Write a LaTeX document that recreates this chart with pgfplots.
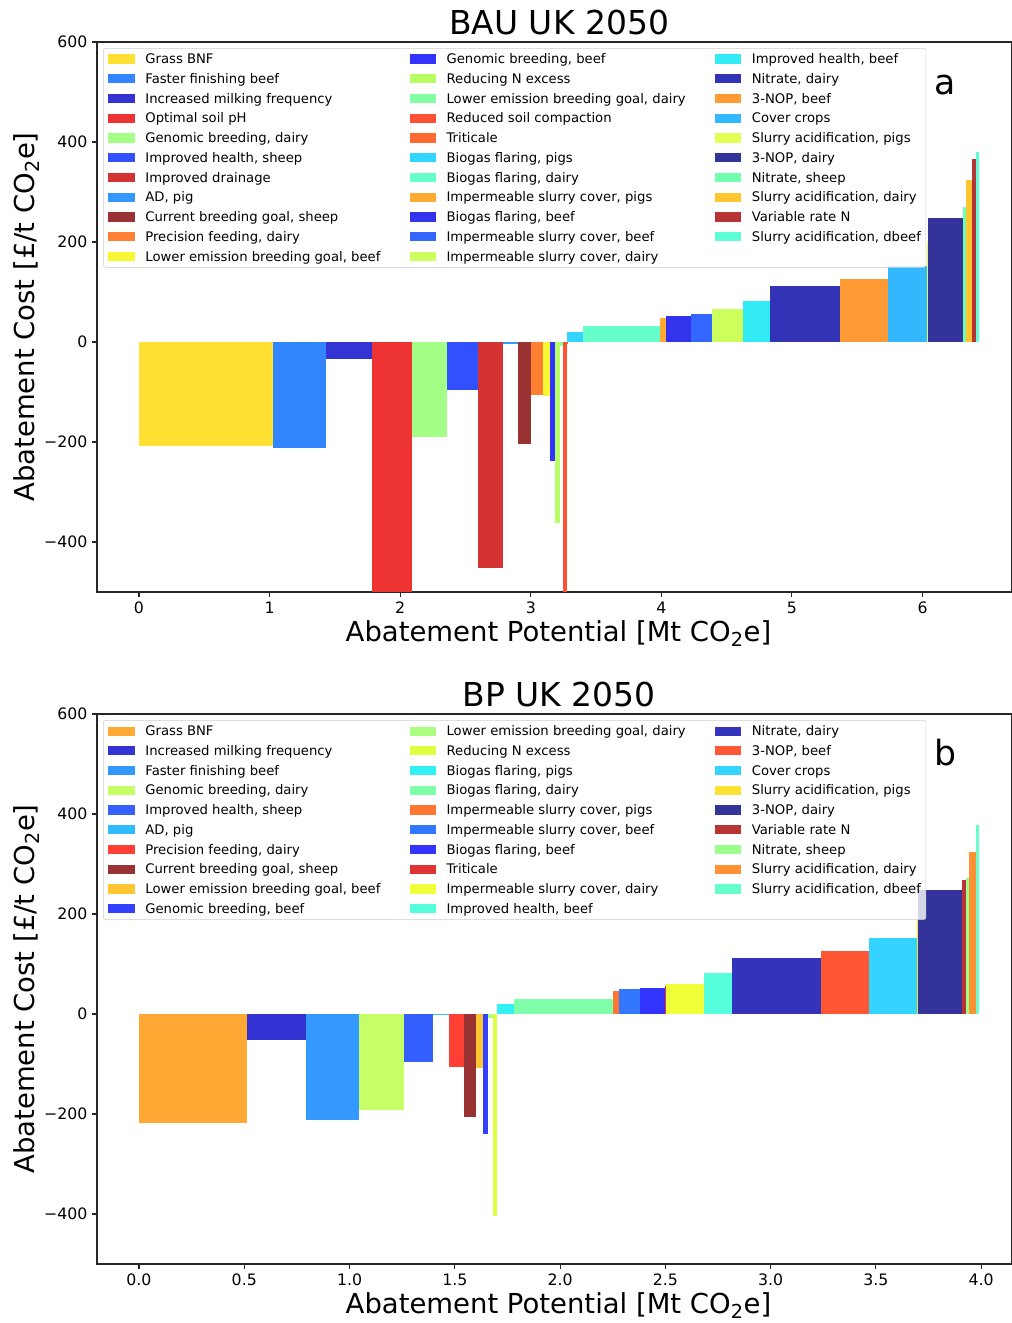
\documentclass[border=0pt]{standalone}
\usepackage{fontspec}
\setmainfont{DejaVu Sans}
\usepackage{pgfplots}
\pgfplotsset{compat=1.18}

% id, hex colour, x start, x end, cost, label
\newcommand{\mb}[6]{%
  \xglobal\definecolor{#1}{HTML}{#2}%
  \addplot[fill=#1, draw=none] coordinates {(#3,0) (#3,#5) (#4,#5) (#4,0)} --cycle;
  \addlegendentry{#6}}

\pgfplotsset{
  macc/.style={
    scale only axis, width=686.25pt, height=412.5pt,
    ymin=-500, ymax=600,
    ytick={-400,-200,0,200,400,600},
    yticklabels={−400,−200,0,200,400,600},
    tick align=outside, tick pos=left,
    major tick length=3.75pt,
    every tick/.style={black!85, line width=0.8pt},
    axis line style={black!85, line width=0.8pt},
    tick label style={font=\fontsize{11.8}{14}\selectfont},
    label style={font=\fontsize{20.6}{24}\selectfont},
    xlabel style={at={(axis description cs:0.5,-0.0909)}, anchor=base, xshift=3pt},
    ylabel style={at={(axis description cs:-0.0678,0.5)}, anchor=base},
    title style={font=\fontsize{24.7}{30}\selectfont, at={(axis description cs:0.5,1)}, anchor=base, yshift=-0.75pt, xshift=3.5pt},
    xlabel={Abatement Potential [Mt CO\textsubscript{2}e]},
    ylabel={Abatement Cost [£/t CO\textsubscript{2}e]},
    legend columns=3,
    legend cell align=left,
    legend style={at={(axis description cs:0.0066,0.989)}, anchor=north west,
      font=\fontsize{9.9}{11}\selectfont, draw=black!20, rounded corners=2pt,
      fill=white, fill opacity=0.8, text opacity=1, draw opacity=1,
      inner xsep=3.75pt, inner ysep=2.6pt,
      column sep=8pt, row sep=3.7pt,
      /tikz/every even column/.append style={column sep=21.8pt},
      nodes={inner sep=0pt, text height=9pt, text depth=2.1pt, anchor=base west}},
    legend image code/.code={\fill[##1, draw=none, sharp corners, fill opacity=1] (0pt,0.05pt) rectangle (19.8pt,6.95pt);},
  }
}

\begin{document}
\begin{tikzpicture}
\useasboundingbox (0,0) rectangle (759pt,992.25pt);

% ---------------- (a) BAU UK 2050 ----------------
\begin{axis}[macc, at={(72.75pt,960.75pt)}, anchor=north west,
  xmin=-0.3216, xmax=6.685,
  xtick={0,1,2,3,4,5,6},
  xticklabels={0,1,2,3,4,5,6},
  title={BAU UK 2050}]
\mb{ta1}{FFE033}{0}{1.024}{-209}{Grass BNF}
\mb{ta12}{3333FF}{3.148}{3.188}{-239}{Genomic breeding, beef}
\mb{ta23}{33EBF5}{4.624}{4.833}{82}{Improved health, beef}
\mb{ta2}{3385FF}{1.024}{1.432}{-212}{Faster finishing beef}
\mb{ta13}{B8FF66}{3.188}{3.224}{-363}{Reducing N excess}
\mb{ta24}{3333B8}{4.833}{5.369}{111}{Nitrate, dairy}
\mb{ta3}{3434D4}{1.432}{1.782}{-35}{Increased milking frequency}
\mb{ta14}{85FFA3}{3.224}{3.250}{-8}{Lower emission breeding goal, dairy}
\mb{ta25}{FF9933}{5.369}{5.734}{126}{3-NOP, beef}
\mb{ta4}{EE3333}{1.782}{2.091}{-700}{Optimal soil pH}
\mb{ta15}{FF5033}{3.250}{3.274}{-700}{Reduced soil compaction}
\mb{ta26}{33B8FF}{5.734}{6.033}{152}{Cover crops}
\mb{ta5}{A3FF85}{2.091}{2.361}{-191}{Genomic breeding, dairy}
\mb{ta16}{FF6A33}{3.274}{3.278}{-5}{Triticale}
\mb{ta27}{E0FF52}{6.033}{6.043}{201}{Slurry acidification, pigs}
\mb{ta6}{3350FF}{2.361}{2.596}{-96}{Improved health, sheep}
\mb{ta17}{33D4FF}{3.278}{3.401}{20}{Biogas flaring, pigs}
\mb{ta28}{333399}{6.043}{6.311}{247}{3-NOP, dairy}
\mb{ta7}{D33333}{2.596}{2.788}{-453}{Improved drainage}
\mb{ta18}{66FFCC}{3.401}{3.990}{32}{Biogas flaring, dairy}
\mb{ta29}{70FFAD}{6.311}{6.336}{270}{Nitrate, sheep}
\mb{ta8}{3399FF}{2.788}{2.903}{-4}{AD, pig}
\mb{ta19}{FFAA33}{3.990}{4.036}{48}{Impermeable slurry cover, pigs}
\mb{ta30}{FFC633}{6.336}{6.377}{324}{Slurry acidification, dairy}
\mb{ta9}{993333}{2.903}{3.005}{-205}{Current breeding goal, sheep}
\mb{ta20}{3333EE}{4.036}{4.230}{52}{Biogas flaring, beef}
\mb{ta31}{B83333}{6.377}{6.410}{365}{Variable rate N}
\mb{ta10}{FF8033}{3.005}{3.094}{-106}{Precision feeding, dairy}
\mb{ta21}{3366FF}{4.230}{4.389}{55}{Impermeable slurry cover, beef}
\mb{ta32}{5CFFD6}{6.410}{6.433}{379}{Slurry acidification, dbeef}
\mb{ta11}{F7F733}{3.094}{3.148}{-109}{Lower emission breeding goal, beef}
\mb{ta22}{CCFF5C}{4.389}{4.624}{66}{Impermeable slurry cover, dairy}
\node[anchor=base, font=\fontsize{26}{30}\selectfont] at (axis description cs:0.927,0.904) {a};
\end{axis}

% ---------------- (b) BP UK 2050 ----------------
\begin{axis}[macc, at={(72.75pt,456.75pt)}, anchor=north west,
  xmin=-0.1995, xmax=4.147,
  xtick={0,0.5,1,1.5,2,2.5,3,3.5,4},
  xticklabels={0.0,0.5,1.0,1.5,2.0,2.5,3.0,3.5,4.0},
  title={BP UK 2050}]
\mb{tb1}{FFA833}{0}{0.513}{-218}{Grass BNF}
\mb{tb11}{AAFF80}{1.659}{1.682}{-8}{Lower emission breeding goal, dairy}
\mb{tb21}{3333BB}{2.816}{3.239}{111}{Nitrate, dairy}
\mb{tb2}{3333D4}{0.513}{0.792}{-53}{Increased milking frequency}
\mb{tb12}{E0FF40}{1.682}{1.702}{-405}{Reducing N excess}
\mb{tb22}{FF5733}{3.239}{3.468}{125}{3-NOP, beef}
\mb{tb3}{3399FF}{0.792}{1.047}{-213}{Faster finishing beef}
\mb{tb13}{33F0F5}{1.702}{1.783}{20}{Biogas flaring, pigs}
\mb{tb23}{33D4FF}{3.468}{3.694}{151}{Cover crops}
\mb{tb4}{C6FF66}{1.047}{1.259}{-193}{Genomic breeding, dairy}
\mb{tb14}{80FFAA}{1.783}{2.250}{30}{Biogas flaring, dairy}
\mb{tb24}{FFE033}{3.694}{3.699}{201}{Slurry acidification, pigs}
\mb{tb5}{3360FF}{1.259}{1.395}{-97}{Improved health, sheep}
\mb{tb15}{FF7733}{2.250}{2.280}{45}{Impermeable slurry cover, pigs}
\mb{tb25}{333399}{3.699}{3.910}{247}{3-NOP, dairy}
\mb{tb6}{33BBFF}{1.395}{1.471}{-2}{AD, pig}
\mb{tb16}{3377FF}{2.280}{2.379}{49}{Impermeable slurry cover, beef}
\mb{tb26}{B83333}{3.910}{3.929}{267}{Variable rate N}
\mb{tb7}{FF3F33}{1.471}{1.544}{-107}{Precision feeding, dairy}
\mb{tb17}{3333FF}{2.379}{2.500}{51}{Biogas flaring, beef}
\mb{tb27}{99FF88}{3.929}{3.944}{271}{Nitrate, sheep}
\mb{tb8}{993333}{1.544}{1.601}{-206}{Current breeding goal, sheep}
\mb{tb18}{DD3333}{2.500}{2.502}{55}{Triticale}
\mb{tb28}{FF9033}{3.944}{3.978}{323}{Slurry acidification, dairy}
\mb{tb9}{FFC633}{1.601}{1.636}{-108}{Lower emission breeding goal, beef}
\mb{tb19}{F0FF3A}{2.502}{2.683}{60}{Impermeable slurry cover, dairy}
\mb{tb29}{66FFCC}{3.978}{3.989}{378}{Slurry acidification, dbeef}
\mb{tb10}{3340FF}{1.636}{1.659}{-240}{Genomic breeding, beef}
\mb{tb20}{55FFDD}{2.683}{2.816}{82}{Improved health, beef}
\node[anchor=base, font=\fontsize{26}{30}\selectfont] at (axis description cs:0.927,0.907) {b};
\end{axis}
\end{tikzpicture}
\end{document}
